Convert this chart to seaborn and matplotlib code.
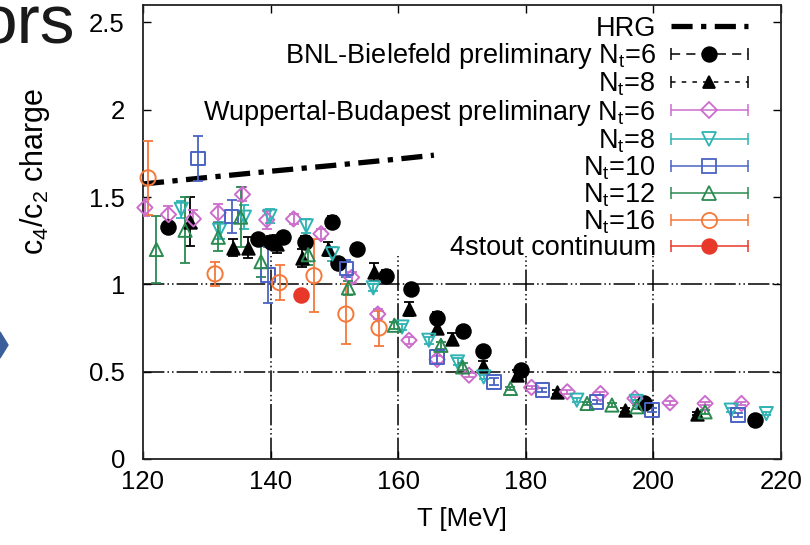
import seaborn as sns
import matplotlib.pyplot as plt
from matplotlib.lines import Line2D
from matplotlib.legend_handler import HandlerBase
from matplotlib.patches import Polygon

# HRG prediction (dash-dot curve)
hrg_T = [120, 130, 140, 150, 160, 165.6]
hrg_v = [1.575, 1.612, 1.648, 1.682, 1.718, 1.74]

# BNL-Bielefeld preliminary, Nt=6
bnl6_T = [124.0, 138.0, 140.0, 141.9, 145.4, 149.6, 150.6, 153.5, 158.1, 162.0,
          166.1, 170.1, 173.3, 179.2, 198.5, 215.9]
bnl6_v = [1.33, 1.26, 1.245, 1.27, 1.245, 1.36, 1.12, 1.20, 1.05, 0.975,
          0.81, 0.735, 0.62, 0.51, 0.32, 0.225]
bnl6_e = [0.03, 0.03, 0.03, 0.03, 0.03, 0.03, 0.03, 0.03, 0.03, 0.03,
          0.03, 0.02, 0.02, 0.02, 0.01, 0.01]

# BNL-Bielefeld preliminary, Nt=8
bnl8_T = [127.3, 134.1, 136.5, 141.0, 144.9, 149.0, 156.2, 161.7, 166.1, 168.5,
          173.3, 178.6, 184.9, 195.6, 206.8]
bnl8_v = [1.36, 1.21, 1.21, 1.23, 1.15, 1.20, 1.07, 0.86, 0.75, 0.69,
          0.53, 0.48, 0.385, 0.28, 0.26]
bnl8_e = [0.14, 0.05, 0.06, 0.05, 0.05, 0.04, 0.05, 0.04, 0.03, 0.03,
          0.03, 0.03, 0.01, 0.01, 0.01]

# Wuppertal-Budapest preliminary, Nt=6
wb6_T = [120.3, 124.0, 127.9, 131.8, 135.6, 139.4, 143.6, 147.9, 152.7, 156.8,
         161.7, 166.1, 171.1, 180.9, 186.5, 191.7, 197.1, 202.6, 208.1, 213.8]
wb6_v = [1.44, 1.40, 1.375, 1.41, 1.515, 1.37, 1.375, 1.29, 1.04, 0.83,
         0.68, 0.57, 0.48, 0.41, 0.385, 0.375, 0.347, 0.322, 0.318, 0.318]
wb6_e = [0.05, 0.05, 0.05, 0.05, 0.04, 0.05, 0.03, 0.03, 0.03, 0.03,
         0.02, 0.02, 0.01, 0.01, 0.01, 0.01, 0.01, 0.01, 0.01, 0.01]

# Wuppertal-Budapest, Nt=8
wb8_T = [126.0, 132.0, 135.9, 139.9, 145.6, 149.7, 156.1, 160.6, 164.8, 169.3,
         173.4, 188.0, 197.3, 212.2, 217.7]
wb8_v = [1.43, 1.31, 1.385, 1.39, 1.335, 1.175, 0.98, 0.756, 0.68, 0.556,
         0.47, 0.337, 0.33, 0.28, 0.26]
wb8_e = [0.05, 0.05, 0.07, 0.04, 0.04, 0.04, 0.02, 0.02, 0.02, 0.02,
         0.01, 0.01, 0.01, 0.01, 0.01]

# Wuppertal-Budapest, Nt=10
wb10_T = [128.6, 133.9, 139.6, 151.9, 166.1, 175.0, 182.6, 191.1, 199.8, 213.3]
wb10_v = [1.72, 1.39, 1.055, 1.09, 0.585, 0.442, 0.394, 0.327, 0.28, 0.251]
wb10_e = [0.13, 0.095, 0.16, 0.05, 0.04, 0.02, 0.01, 0.01, 0.01, 0.01]

# Wuppertal-Budapest, Nt=12
wb12_T = [122.1, 126.6, 131.8, 135.3, 138.5, 145.9, 152.2, 159.4, 166.7, 170.1,
          177.6, 189.6, 193.5, 197.4, 208.1]
wb12_v = [1.20, 1.31, 1.27, 1.385, 1.13, 1.17, 0.98, 0.766, 0.651, 0.527,
          0.404, 0.318, 0.309, 0.299, 0.27]
wb12_e = [0.19, 0.19, 0.08, 0.17, 0.09, 0.06, 0.04, 0.02, 0.02, 0.02,
          0.01, 0.01, 0.01, 0.01, 0.01]

# Wuppertal-Budapest, Nt=16
wb16_T = [120.8, 131.3, 141.4, 146.8, 151.8, 157.0]
wb16_v = [1.61, 1.06, 1.01, 1.05, 0.83, 0.75]
wb16_e = [0.21, 0.07, 0.10, 0.21, 0.17, 0.10]

# 4stout continuum
cont_T = [144.7]
cont_v = [0.937]
cont_e = [0.02]

x_ticks = [120, 140, 160, 180, 200, 220]
y_ticks = [0, 0.5, 1, 1.5, 2, 2.5]
y_ticklabels = ["0", "0.5", "1", "1.5", "2", "2.5"]
grid_x = [140, 160, 180, 200]
grid_y = [0.5, 1.0]


class GnuplotKey(HandlerBase):
    """Horizontal error-bar style legend sample: caps at both ends, marker in the middle."""

    def create_artists(self, legend, orig, xdescent, ydescent, width, height,
                       fontsize, trans):
        y = height / 2 - ydescent
        x0, x1 = -xdescent, -xdescent + width
        bar = Line2D([x0, x1], [y, y])
        bar.update_from(orig)
        bar.set_marker("None")
        arts = [bar]
        if orig.get_marker() not in (None, "None", ""):
            caps = Line2D([x0, x1], [y, y], ls="none", marker="|", ms=9,
                          mew=1.1, color=orig.get_color())
            mk = Line2D([(x0 + x1) / 2], [y], ls="none",
                        marker=orig.get_marker(), ms=orig.get_markersize(),
                        mfc=orig.get_markerfacecolor(),
                        mec=orig.get_markeredgecolor(),
                        mew=orig.get_markeredgewidth())
            arts += [caps, mk]
        for a in arts:
            a.set_transform(trans)
        return arts


def main():
    sns.set_theme(style="ticks")
    plt.rcParams["font.family"] = ["Liberation Sans", "DejaVu Sans"]
    plt.rcParams["mathtext.fontset"] = "custom"
    plt.rcParams["mathtext.rm"] = "Liberation Sans"
    plt.rcParams["mathtext.it"] = "Liberation Sans:italic"
    for key in ["text.color", "axes.labelcolor", "xtick.color", "ytick.color"]:
        plt.rcParams[key] = "black"

    fig = plt.figure(figsize=(8.1, 5.45), dpi=100)
    ax = fig.add_axes([0.1765, 0.1578, 0.7877, 0.833])

    # dashed gnuplot-like grid, hidden behind the key in the upper part
    grid_ls = (0, (14, 2, 1, 2, 1, 2))
    ax.vlines(grid_x, 0, 1.16, colors="black", linestyles=[grid_ls], lw=1.1, zorder=1)
    ax.hlines(grid_y, 120, 220, colors="black", linestyles=[grid_ls], lw=1.1, zorder=1)

    ax.plot(hrg_T, hrg_v, color="black", lw=3.8, ls=(0, (4, 1.6, 1, 1.6)),
            solid_capstyle="butt", zorder=2)

    series = [
        # T, v, err, colour, marker, filled, size, legend label, legend ls
        (bnl6_T, bnl6_v, bnl6_e, "black", "o", True, 110,
         r"BNL-Bielefeld preliminary N$_\mathrm{t}$=6", (0, (6, 4))),
        (bnl8_T, bnl8_v, bnl8_e, "black", "^", True, 80,
         r"N$_\mathrm{t}$=8", (0, (3, 4))),
        (wb6_T, wb6_v, wb6_e, "#cc6dcc", "D", False, 60,
         r"Wuppertal-Budapest preliminary N$_\mathrm{t}$=6", "-"),
        (wb8_T, wb8_v, wb8_e, "#2fb3b3", "v", False, 90,
         r"N$_\mathrm{t}$=8", "-"),
        (wb10_T, wb10_v, wb10_e, "#4a63c4", "s", False, 95,
         r"N$_\mathrm{t}$=10", "-"),
        (wb12_T, wb12_v, wb12_e, "#2a8a50", "^", False, 90,
         r"N$_\mathrm{t}$=12", "-"),
        (wb16_T, wb16_v, wb16_e, "#f4783a", "o", False, 120,
         r"N$_\mathrm{t}$=16", "-"),
        (cont_T, cont_v, cont_e, "#e8382a", "o", True, 110,
         "4stout continuum", "-"),
    ]

    handles = [Line2D([], [], color="black", lw=3.8, ls=(0, (4, 1.6, 1, 1.6)),
                      solid_capstyle="butt")]
    labels = ["HRG"]
    for T, v, e, c, m, filled, s, lab, lls in series:
        ax.errorbar(T, v, yerr=e, fmt="none", ecolor=c, elinewidth=1.3,
                    capsize=3.5, capthick=1.3, zorder=3)
        sns.scatterplot(x=T, y=v, ax=ax, marker=m, s=s,
                        facecolor=c if filled else "none", edgecolor=c,
                        linewidth=1.4, zorder=4, clip_on=False)
        handles.append(Line2D([], [], color=c, lw=1.1, ls=lls, marker=m,
                              ms=s ** 0.5, mfc=c if filled else "none",
                              mec=c, mew=1.3))
        labels.append(lab)

    ax.set_xlim(120, 220)
    ax.set_ylim(0, 2.6)
    ax.set_xticks(x_ticks)
    ax.set_yticks(y_ticks)
    ax.set_yticklabels(y_ticklabels)
    ax.tick_params(direction="in", length=6, width=1, top=True, right=True,
                   labelsize=18.5, colors="black")
    ax.tick_params(axis="y", pad=13)
    ax.tick_params(axis="x", pad=8)
    for sp in ax.spines.values():
        sp.set_color("#222222")
        sp.set_linewidth(1.3)

    ax.set_xlabel("T [MeV]", fontsize=18.5, labelpad=9)
    ax.set_ylabel(r"c$_4$/c$_2$ charge", fontsize=22)
    ax.yaxis.set_label_coords(-0.143, 0.634)

    handler = GnuplotKey()
    leg = ax.legend(handles, labels, loc="upper right",
                    bbox_to_anchor=(0.948, 0.976), frameon=False,
                    markerfirst=False, fontsize=19.5, handlelength=2.85,
                    handletextpad=0.55, labelspacing=-0.02, borderpad=0,
                    borderaxespad=0,
                    handler_map={h: handler for h in handles[1:]})
    for col in leg._legend_handle_box.get_children():
        col.align = "right"

    # leftovers of the slide this figure was cut from
    fig.text(75 / 810, 1 - 44 / 545, "ors", ha="right", va="baseline",
             fontsize=50, color="#1a1a1a")
    fig.patches.append(Polygon([(0, 1 - 332 / 545), (8 / 810, 1 - 345 / 545),
                                (0, 1 - 358 / 545)], closed=True,
                               transform=fig.transFigure, color="#3b5f9a"))

    plt.savefig("out.png", dpi=100)
    plt.close()


if __name__ == "__main__":
    main()
